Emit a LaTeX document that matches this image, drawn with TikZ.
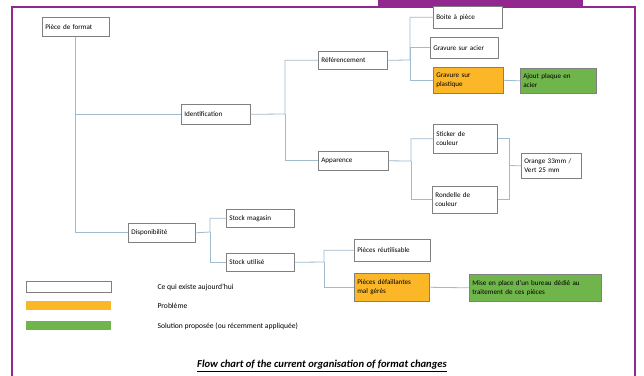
\documentclass[tikz,border=0pt]{standalone}
\usepackage{fontspec}
\setmainfont{Carlito}
\usepackage{color}
\definecolor{myframe}{RGB}{146,39,143}
\definecolor{myline}{RGB}{160,186,206}
\definecolor{myborder}{RGB}{128,128,128}
\definecolor{myorange}{RGB}{252,183,40}
\definecolor{mygreen}{RGB}{112,181,75}
\newcommand{\boxfont}{\fontsize{7.1}{8.6}\selectfont}
\tikzset{
    box/.style={anchor=north west, draw=myborder, fill=white, rectangle, align=left,
        inner xsep=3pt, inner ysep=1pt, font=\boxfont, line width=0.6pt},
    problem/.style={box, fill=myorange},
    solution/.style={box, fill=mygreen},
    % width and height of a box, text set flush left inside it
    boxsize/.code 2 args={
        \pgfmathsetmacro\boxtw{#1-6}
        \edef\boxopts{\noexpand\tikzset{minimum width=#1pt, minimum height=#2pt, text width=\boxtw pt}}
        \boxopts
    },
    link/.style={draw=myline, line width=0.8pt},
    legend/.style={anchor=west, font=\fontsize{7.6}{9}\selectfont}
}

\begin{document}
\begin{tikzpicture}[x=1pt, y=-1pt]
    \useasboundingbox (0,0) rectangle (644,375);
    \fill[white] (0,0) rectangle (644,375);

    % frame
    \fill[myframe] (378,0) rectangle (583,7);
    \draw[myframe, line width=2.6pt] (12,376) -- (12,7) -- (635,7) -- (635,376);

    % tree
    \node[box, boxsize={67}{19}] (piece) at (42,17) {Pièce de format};
    \node[box, boxsize={69}{20}] (ident) at (181,104) {Identification};
    \node[box, boxsize={69}{18}] (ref) at (318,51) {Référencement};
    \node[box, boxsize={69}{22}] (boite) at (433,6) {Boite à pièce};
    \node[box, boxsize={68}{21}] (gacier) at (430,37) {Gravure sur acier};
    \node[problem, boxsize={70}{26}] (gplast) at (433,67) {Gravure sur\\plastique};
    \node[solution, boxsize={76}{25}] (ajout) at (520,68) {Ajout plaque en\\acier};
    \node[box, boxsize={70}{19}] (app) at (318,151) {Apparence};
    \node[box, boxsize={64}{29}] (sticker) at (433,124) {Sticker de\\couleur};
    \node[box, boxsize={65}{27}] (rondelle) at (432,186) {Rondelle de\\couleur};
    \node[box, boxsize={60}{25}] (teinte) at (521,153) {Orange 33mm /\\Vert 25 mm};
    \node[box, boxsize={67}{19}] (dispo) at (128,223) {Disponibilité};
    \node[box, boxsize={68}{18}] (smag) at (226,209) {Stock magasin};
    \node[box, boxsize={68}{18}] (sutil) at (226,253) {Stock utilisé};
    \node[box, boxsize={76}{22}] (preut) at (354,239) {Pièces réutilisable};
    \node[problem, boxsize={75}{28}] (pdef) at (354,273) {Pièces défaillantes\\mal gérés};
    \node[solution, boxsize={132}{27}] (bureau) at (469,274) {Mise en place d'un bureau dédié au\\traitement de ces pièces};

    \coordinate (jident) at (285,114);
    \coordinate (jref) at (410,60);
    \coordinate (japp) at (411,161);
    \coordinate (jteinte) at (509,165.5);
    \coordinate (jdispo) at (210,232);
    \coordinate (jsutil) at (324,262);

    \draw[link] (piece.south) |- (ident.west);
    \draw[link] (piece.south) |- (dispo.west);
    \draw[link] (ident.east) -- (jident) |- (ref.west);
    \draw[link] (jident) |- (app.west);
    \draw[link] (ref.east) -- (jref) |- (boite.west);
    \draw[link] (jref) |- (gacier.west);
    \draw[link] (jref) |- (gplast.west);
    \draw[link] (gplast.east) -- (ajout.west);
    \draw[link] (app.east) -- (japp) |- (sticker.west);
    \draw[link] (japp) |- (rondelle.west);
    \draw[link] (sticker.east) -| (jteinte);
    \draw[link] (rondelle.east) -| (jteinte);
    \draw[link] (jteinte) -- (teinte.west);
    \draw[link] (dispo.east) -- (jdispo) |- (smag.west);
    \draw[link] (jdispo) |- (sutil.west);
    \draw[link] (sutil.east) -- (jsutil) |- (preut.west);
    \draw[link] (jsutil) |- (pdef.west);
    \draw[link] (pdef.east) -- (bureau.west);

    % legend
    \node[box, minimum width=85pt, minimum height=11pt, inner sep=0pt] (legexist) at (26,281) {};
    \node[box, draw=none, fill=myorange, minimum width=85pt, minimum height=9pt, inner sep=0pt] (legprob) at (26,301) {};
    \node[box, draw=none, fill=mygreen, minimum width=85pt, minimum height=9pt, inner sep=0pt] (legsol) at (26,321) {};
    \node[legend] (txtexist) at (154,287) {Ce qui existe aujourd'hui};
    \node[legend] (txtprob) at (154,306) {Problème};
    \node[legend] (txtsol) at (154,326) {Solution proposée (ou récemment appliquée)};

    \node[font=\fontsize{10.6}{12}\selectfont\bfseries\itshape] (title) at (322,366)
        {\underline{Flow chart of the current organisation of format changes}};
\end{tikzpicture}
\end{document}
